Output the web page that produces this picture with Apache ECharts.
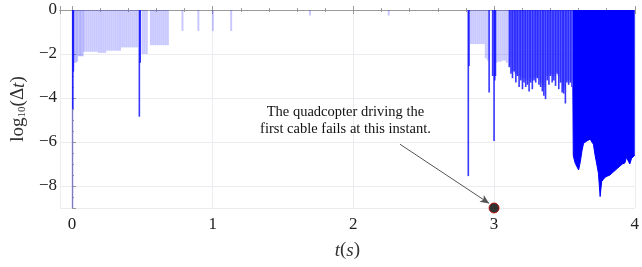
<!DOCTYPE html>
<html>
<head>
<meta charset="utf-8">
<script src="https://cdn.jsdelivr.net/npm/echarts@6/dist/echarts.min.js"></script>
<style>
  html, body { margin: 0; padding: 0; background: #fff; }
  #main { width: 642px; height: 267px; }
</style>
</head>
<body>
<div id="main"></div>
<script>
// step sizes, pale lines
var lightT = [0.003, 0.015, 0.025, 0.035, 0.045, 0.055, 0.065, 0.075, 0.085, 0.1, 0.115, 0.13, 0.145, 0.16, 0.175,
  0.19, 0.205, 0.22, 0.235, 0.25, 0.265, 0.28, 0.295, 0.31, 0.325, 0.34, 0.355, 0.37, 0.385, 0.4, 0.415, 0.43, 0.445, 0.46,
  0.5, 0.515, 0.53, 0.56, 0.575, 0.59, 0.605, 0.62, 0.635, 0.65, 0.665, 0.68,
  0.784, 0.897, 1.0, 1.13, 1.69, 2.25,
  2.835, 2.85, 2.865, 2.88, 2.895, 2.91, 2.925, 2.94, 2.955,
  3.015, 3.03, 3.045, 3.06, 3.075, 3.09,
  3.114, 3.126, 3.137, 3.149, 3.16, 3.172, 3.184, 3.196, 3.207, 3.219, 3.231, 3.243, 3.254, 3.266, 3.278, 3.29,
  3.301, 3.313, 3.325, 3.337, 3.348, 3.36, 3.372, 3.384, 3.395, 3.407, 3.419, 3.431, 3.442, 3.454, 3.466, 3.478,
  3.49, 3.501, 3.513, 3.524, 3.536, 3.548];
var lightV = [-9, -2.4, -2.4, -2.35, -2.1, -2.1, -2.1, -2.1, -1.9, -1.9, -1.9, -1.9, -1.9, -1.9, -1.9,
  -1.95, -1.95, -1.95, -1.95, -1.85, -1.85, -1.85, -1.85, -1.85, -1.85, -1.85, -1.7, -1.7, -1.7, -1.7, -1.7, -1.7, -1.7, -1.7,
  -2.0, -2.0, -2.0, -1.6, -1.6, -1.6, -1.6, -1.6, -1.6, -1.6, -1.6, -1.6,
  -0.95, -0.95, -0.95, -0.95, -0.25, -0.25,
  -1.55, -1.55, -1.55, -1.55, -1.55, -1.55, -1.55, -2.2, -2.3,
  -2.4, -2.35, -2.35, -2.3, -2.3, -2.4,
  -2.5, -2.8, -2.8, -2.9, -2.9, -3.0, -3.0, -3.1, -3.1, -3.1, -3.2, -3.2, -3.1, -3.2, -3.1, -3.1,
  -3.0, -3.1, -3.2, -3.3, -3.4, -3.5, -3.0, -3.0, -2.9, -2.9, -3.0, -3.0, -2.8, -3.0, -3.1, -3.3,
  -3.5, -3.6, -3.2, -3.2, -3.2, -3.3];

// spikes and strong lines
var darkT = [0.006, 0.01, 0.479, 0.485,
  2.817, 2.822, 2.965, 2.99, 3.0, 3.005, 3.01,
  3.108, 3.12, 3.131, 3.143, 3.155, 3.166, 3.178, 3.19, 3.202, 3.213, 3.225, 3.237, 3.249, 3.26, 3.272, 3.284,
  3.296, 3.307, 3.319, 3.331, 3.343, 3.354, 3.366, 3.378, 3.39, 3.401, 3.413, 3.425, 3.437, 3.448, 3.46, 3.472,
  3.484, 3.495, 3.507, 3.518, 3.53, 3.542, 3.554];
var darkV = [-4.5, -2.8, -4.85, -2.4,
  -7.55, -2.55, -3.75, -3.0, -5.95, -3.2, -3.0,
  -2.6, -2.9, -3.1, -2.8, -3.3, -3.0, -3.5, -3.2, -3.6, -3.3, -3.5, -3.4, -3.7, -3.3, -3.6, -3.2,
  -3.3, -3.1, -3.4, -3.5, -3.7, -3.9, -4.05, -3.2, -3.4, -3.0, -3.3, -3.2, -3.45, -2.9, -3.6, -3.3,
  -3.75, -3.8, -4.25, -3.3, -3.4, -3.3, -3.5];

// solid region after ~3.56 s (lower envelope)
var denseT = [3.560, 3.563, 3.566, 3.577, 3.59, 3.601, 3.613, 3.625, 3.636, 3.648, 3.66, 3.671, 3.683, 3.695,
  3.706, 3.718, 3.73, 3.742, 3.754, 3.76, 3.765, 3.777, 3.789, 3.806, 3.824, 3.841, 3.859, 3.876, 3.894, 3.912,
  3.93, 3.941, 3.953, 3.965, 3.977, 3.99, 4.0];
var denseV = [-3.5, -6.6, -6.7, -6.97, -7.0, -7.27, -6.9, -6.4, -6.06, -6.1, -5.95, -6.0, -5.87, -6.0,
  -6.1, -6.6, -7.0, -7.43, -8.48, -8.1, -7.8, -7.7, -7.6, -7.55, -7.5, -7.4, -7.3, -7.2, -7.1, -7.0,
  -6.95, -6.7, -6.63, -7.0, -6.75, -6.7, -6.6];

var failPoint = [3, -9];
var arrowFrom = [2.331, -6.1];
var arrowTo = [2.965, -8.79];
var noteAt = [1.944, -5.05];
var noteText = "The quadcopter driving the\nfirst cable fails at this instant.";

function pairs(ts, vs) {
  return ts.map(function (t, i) {
    return [t, vs[i]];
  });
}

var serif = "Liberation Serif";
var axisGray = "#9a9a9a";

var myChart = echarts.init(document.getElementById("main"));
option = {
  backgroundColor: "#fff",
  animation: false,
  grid: {
    left: 60,
    right: 2,
    top: 10,
    bottom: 59,
  },
  xAxis: [
    {
      type: "value",
      min: -0.085,
      max: 4,
      name: "{i|t}{n|(}{i|s}{n|)}",
      nameLocation: "middle",
      nameGap: 33,
      nameTextStyle: {
        rich: {
          i: { fontFamily: serif, fontStyle: "italic", fontSize: 19, color: "#333" },
          n: { fontFamily: serif, fontSize: 19, color: "#333" },
        },
      },
      axisLine: { lineStyle: { color: axisGray } },
      axisTick: { inside: true, length: 4, lineStyle: { color: axisGray } },
      minorTick: { show: true, splitNumber: 5, length: 2, lineStyle: { color: axisGray } },
      axisLabel: {
        fontFamily: serif,
        fontSize: 17,
        color: "#222",
        margin: 8,
        formatter: function (v) {
          return Number.isInteger(v) ? String(v) : "";
        },
      },
      splitLine: { show: true, lineStyle: { color: "#ececf0", width: 1 } },
    },
    {
      type: "value",
      position: "top",
      min: -0.085,
      max: 4,
      axisLine: { show: true, lineStyle: { color: axisGray } },
      axisTick: { show: true, inside: true, length: 4, lineStyle: { color: axisGray } },
      minorTick: { show: true, splitNumber: 5, length: 2, lineStyle: { color: axisGray } },
      axisLabel: { show: false },
      splitLine: { show: false },
    },
  ],
  yAxis: {
    type: "value",
    min: -9,
    max: 0,
    name: "{n|log}{s|10}{n|(Δ}{i|t}{n|)}",
    nameLocation: "middle",
    nameGap: 30,
    nameTextStyle: {
      rich: {
        n: { fontFamily: serif, fontSize: 19, color: "#333" },
        i: { fontFamily: serif, fontStyle: "italic", fontSize: 19, color: "#333" },
        s: { fontFamily: serif, fontSize: 11, color: "#333", verticalAlign: "bottom", padding: [8, 0, 0, 0] },
      },
    },
    axisLine: { show: true, lineStyle: { color: axisGray } },
    axisTick: { show: true, inside: true, length: 4, lineStyle: { color: axisGray } },
    minorTick: { show: true, splitNumber: 4, length: 2, lineStyle: { color: axisGray } },
    axisLabel: {
      fontFamily: serif,
      fontSize: 17,
      color: "#222",
      margin: 3,
      formatter: function (v) {
        if (v === -9) return "";
        return v < 0 ? "\u2212" + -v : String(v);
      },
    },
    splitLine: { show: true, lineStyle: { color: "#ececf0", width: 1 } },
  },
  series: [
    {
      name: "light",
      type: "bar",
      barWidth: 2,
      barGap: "-100%",
      itemStyle: { color: "rgba(40,40,255,0.25)" },
      data: pairs(lightT, lightV),
    },
    {
      name: "dark",
      type: "bar",
      barWidth: 1.6,
      barGap: "-100%",
      itemStyle: { color: "rgba(20,20,255,0.85)" },
      data: pairs(darkT, darkV),
    },
    {
      name: "dense",
      type: "line",
      symbol: "none",
      lineStyle: { color: "#0000ff", width: 1 },
      areaStyle: { color: "#0000ff", opacity: 1 },
      data: pairs(denseT, denseV),
    },
    {
      name: "fail",
      type: "scatter",
      clip: false,
      symbolSize: 10,
      itemStyle: { color: "#000", borderColor: "#c00000", borderWidth: 1 },
      data: [failPoint],
      z: 5,
      markLine: {
        silent: true,
        symbol: ["none", "arrow"],
        symbolSize: [6, 9],
        label: { show: false },
        lineStyle: { color: "#555", width: 1, type: "solid" },
        data: [[{ coord: arrowFrom }, { coord: arrowTo }]],
      },
      markPoint: {
        silent: true,
        symbol: "circle",
        symbolSize: 0,
        itemStyle: { color: "transparent" },
        label: {
          show: true,
          position: "inside",
          formatter: noteText,
          fontFamily: serif,
          fontSize: 14.5,
          lineHeight: 17,
          color: "#111",
          align: "center",
        },
        data: [{ coord: noteAt }],
      },
    },
  ],
};
myChart.setOption(option);
</script>
</body>
</html>
